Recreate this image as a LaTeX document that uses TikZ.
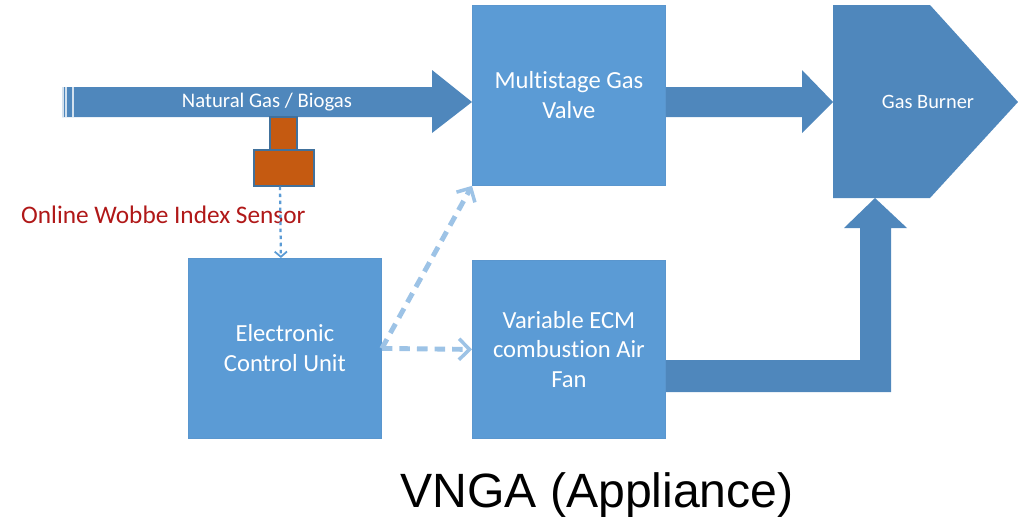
\documentclass[tikz,border=0pt]{standalone}
\usepackage{fontspec}
\setmainfont{Carlito}[Ligatures=NoCommon]
\newfontfamily\titlefont{Liberation Sans}
\usepackage{tikz}
\usetikzlibrary{arrows.meta}
\definecolor{boxblue}{HTML}{5B9BD5}
\definecolor{boxline}{HTML}{5A96CE}
\definecolor{pipeblue}{HTML}{4F87BC}
\definecolor{dashblue}{HTML}{9DC3E6}
\definecolor{sensorfill}{HTML}{C55A11}
\definecolor{sensorline}{HTML}{41719C}
\definecolor{labelred}{HTML}{B01818}

\begin{document}
\begin{tikzpicture}[x=0.02cm,y=-0.02cm,
  unitbox/.style={draw=boxline,fill=boxblue,line width=0.5pt,anchor=north west,
    minimum width=3.86cm,minimum height=3.6cm,align=center,text=white,
    font=\fontsize{14}{17}\selectfont},
  sensorbox/.style={draw=sensorline,fill=sensorfill,line width=0.6pt,inner sep=0pt},
  blockarrow/.style={fill=pipeblue},
  signal/.style={dashblue,line width=2.8pt,dash pattern=on 6pt off 4pt,
    -{Straight Barb[length=6pt,width=12pt,line width=2pt]}},
  sensorwire/.style={boxblue,line width=1.3pt,dash pattern=on 2pt off 2pt,
    -{Straight Barb[length=3pt,width=7pt,line width=1pt]}}]

\useasboundingbox (0,0) rectangle (1018,524);

% gas pipe
\fill [blockarrow] (62,87) -- (432,87) -- (432,70) -- (472,102) -- (432,133)
  -- (432,117) -- (62,117) -- cycle;
\foreach \xs in {63,66,73}
  \draw [white!75!pipeblue,line width=0.6pt] (\xs,87) -- (\xs,117);
\node [text=white,font=\fontsize{11.8}{13}\selectfont] (pipe) at (267,102) {Natural Gas / Biogas};

% valve to burner, fan to burner
\fill [blockarrow] (660,87) -- (802,87) -- (802,70) -- (833,102) -- (802,133)
  -- (802,117) -- (660,117) -- cycle;
\fill [blockarrow] (660,360) -- (860,360) -- (860,228) -- (844,228) -- (875,198)
  -- (907,228) -- (891,228) -- (891,392) -- (660,392) -- cycle;

% burner
\fill [blockarrow] (833,5) -- (930,5) -- (1018,102) -- (930,198) -- (833,198) -- cycle;
\node [text=white,font=\fontsize{11.6}{13}\selectfont] (burner) at (928,102) {Gas Burner};

% units
\node [unitbox] (valve) at (472,5) {Multistage Gas\\Valve};
\node [unitbox,minimum height=3.56cm] (ecm) at (472,260) {Variable ECM\\combustion Air\\Fan};
\node [unitbox] (ecu) at (188,258) {Electronic\\Control Unit};

% sensor
\node [sensorbox,minimum width=0.54cm,minimum height=0.66cm] (sensortop) at (283.5,133.5) {};
\node [sensorbox,minimum width=1.2cm,minimum height=0.72cm] (sensor) at (284,168) {};
\node [text=labelred,font=\fontsize{14.4}{16}\selectfont,anchor=west] (sensorlabel) at (15,215) {Online Wobbe Index Sensor};

% signals
\draw [sensorwire] ([xshift=-0.08cm]sensor.south) -- ([xshift=-0.08cm]ecu.north);
\draw [signal] (ecu.east) -- (ecm.west);
\draw [signal] (ecu.east) -- (valve.south west);

\node [font=\titlefont\fontsize{27.4}{30}\selectfont] (title) at (597,495) {VNGA (Appliance)};
\end{tikzpicture}
\end{document}
